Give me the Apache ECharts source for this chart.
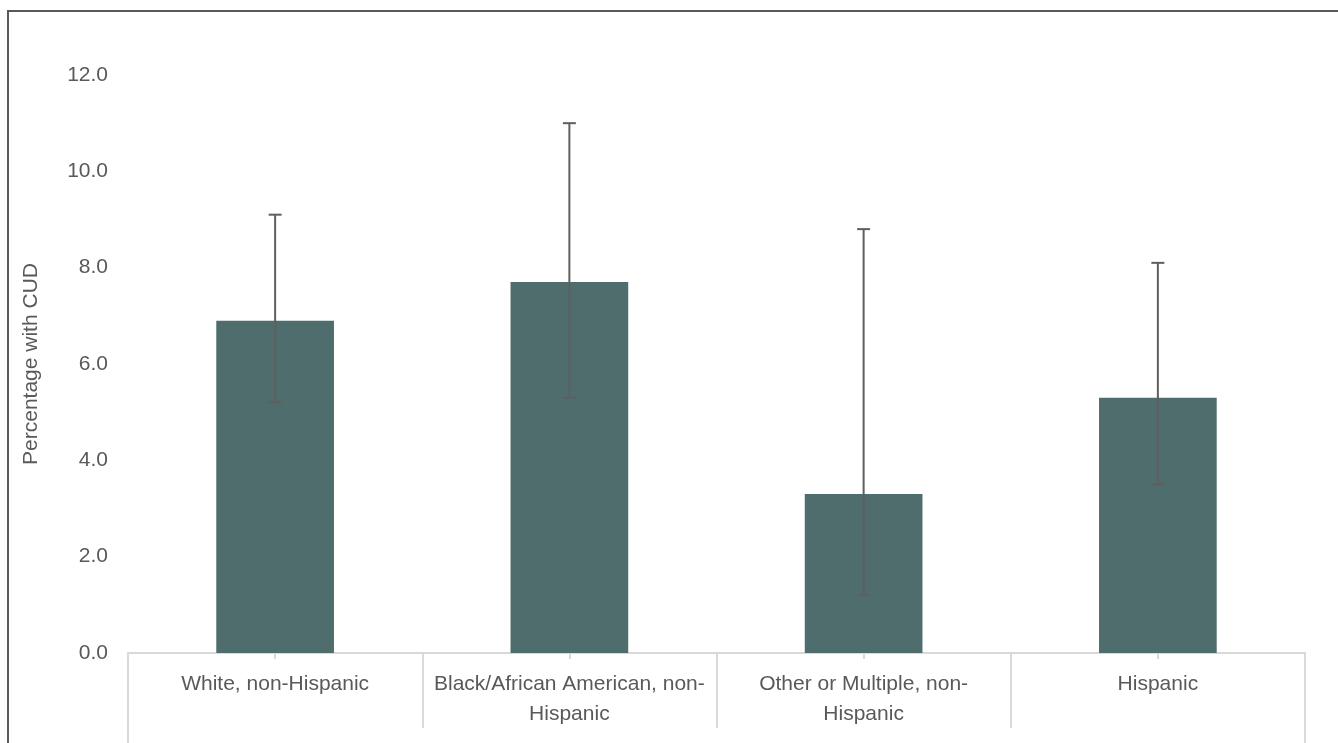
<!DOCTYPE html>
<html>
<head>
<meta charset="utf-8">
<script src="https://cdn.jsdelivr.net/npm/echarts@6/dist/echarts.min.js"></script>
<style>
html, body { margin: 0; padding: 0; background: #ffffff; }
#chart { width: 1338px; height: 743px; position: absolute; left: 0; top: 0; }
#frame { position: absolute; left: 7px; top: 10px; width: 1400px; height: 800px;
  border-left: 2px solid #595959; border-top: 2px solid #595959; pointer-events: none; }
</style>
</head>
<body>
<div id="chart"></div>
<div id="frame"></div>
<script>
const categories = [
  'White, non-Hispanic',
  'Black/African American, non-\nHispanic',
  'Other or Multiple, non-\nHispanic',
  'Hispanic'
];
const percentValues = [6.9, 7.7, 3.3, 5.3];
const errorLow = [5.2, 5.3, 1.2, 3.5];
const errorHigh = [9.1, 11.0, 8.8, 8.1];
const yTickLabelsDecimals = 1;

const FONT = '"Liberation Sans", Arial, sans-serif';
const TEXT = '#595959';
const AXIS = '#d9d9d9';

const chart = echarts.init(document.getElementById('chart'), null, { renderer: 'canvas' });

const errorData = categories.map((c, i) => [i, errorLow[i], errorHigh[i]]);

chart.setOption({
  animation: false,
  backgroundColor: 'transparent',
  grid: { left: 128, right: 33, top: 75, bottom: 90, containLabel: false },
  xAxis: [
    {
      type: 'category', position: 'bottom', data: categories,
      axisLine: { show: true, lineStyle: { color: AXIS, width: 2 } },
      axisTick: { show: true, alignWithLabel: false, length: 75, lineStyle: { color: AXIS, width: 2 } },
      axisLabel: { color: TEXT, fontFamily: FONT, fontSize: 21, lineHeight: 30, margin: 16, interval: 0 },
      splitLine: { show: false }
    },
    {
      type: 'category', position: 'bottom', data: categories,
      axisLine: { show: false },
      axisTick: { show: true, alignWithLabel: true, length: 6, lineStyle: { color: AXIS, width: 2 } },
      axisLabel: { show: false }, splitLine: { show: false }
    },
    {
      type: 'category', position: 'bottom', data: [''],
      axisLine: { show: false },
      axisTick: { show: true, alignWithLabel: false, length: 92, lineStyle: { color: AXIS, width: 2 } },
      axisLabel: { show: false }, splitLine: { show: false }
    }
  ],
  yAxis: {
    type: 'value', min: 0, max: 12, interval: 2,
    name: 'Percentage with CUD', nameLocation: 'middle', nameGap: 86,
    nameTextStyle: { color: TEXT, fontFamily: FONT, fontSize: 21 },
    axisLine: { show: false }, axisTick: { show: false },
    splitLine: { show: false },
    axisLabel: { color: TEXT, fontFamily: FONT, fontSize: 21, margin: 20,
      formatter: v => v.toFixed(yTickLabelsDecimals) }
  },
  series: [
    {
      type: 'bar', xAxisIndex: 0, data: percentValues, barWidth: '40%',
      itemStyle: { color: '#4F6D6D' }
    },
    {
      type: 'custom', xAxisIndex: 0, data: errorData, z: 10,
      renderItem: function (params, api) {
        const x = api.value(0);
        const lo = api.coord([x, api.value(1)]);
        const hi = api.coord([x, api.value(2)]);
        const hw = 6.5;
        const style = { stroke: '#5f5f5f', lineWidth: 2 };
        return {
          type: 'group',
          children: [
            { type: 'line', shape: { x1: lo[0], y1: lo[1], x2: hi[0], y2: hi[1] }, style: style },
            { type: 'line', shape: { x1: hi[0] - hw, y1: hi[1], x2: hi[0] + hw, y2: hi[1] }, style: style },
            { type: 'line', shape: { x1: lo[0] - hw, y1: lo[1], x2: lo[0] + hw, y2: lo[1] }, style: style }
          ]
        };
      }
    }
  ]
});
</script>
</body>
</html>
